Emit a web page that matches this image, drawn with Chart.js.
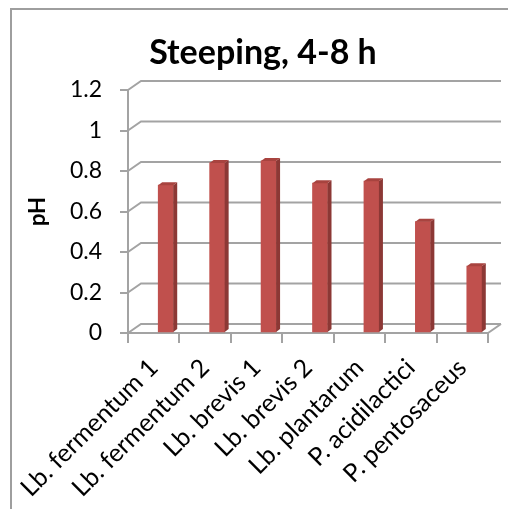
<!DOCTYPE html>
<html>
<head>
<meta charset="utf-8">
<script src="https://cdn.jsdelivr.net/npm/chart.js@4.4.0/dist/chart.umd.min.js"></script>
<style>
  html, body { margin: 0; padding: 0; background: #fff; overflow: hidden; }
  canvas { display: block; background: #fff; }
</style>
</head>
<body>
<canvas id="chart" width="508" height="509"></canvas>
<script>
// Strains and measured pH drop during steeping
const categories = ['Lb. fermentum 1', 'Lb. fermentum 2', 'Lb. brevis 1', 'Lb. brevis 2',
                    'Lb. plantarum', 'P. acidilactici', 'P. pentosaceus'];
const phValues = [0.73, 0.84, 0.85, 0.74, 0.75, 0.55, 0.33];
const yTicks = [0, 0.2, 0.4, 0.6, 0.8, 1, 1.2];

const GRID = '#a3a3a3';
const FONT = 'Lato';

// pseudo-3D geometry: back wall offset, column shift and column depth
const WALL_DX = 13, WALL_DY = -9;
const BAR_SHIFT = 12;
const BAR_DX = 4, BAR_DY = -3;

const depthPlugin = {
  id: 'depth3d',
  beforeDraw(chart) {
    const ctx = chart.ctx;
    ctx.save();
    ctx.strokeStyle = '#9e9e9e';
    ctx.lineWidth = 2;
    ctx.strokeRect(11, 9, 620, 620);
    ctx.restore();
  },
  beforeDatasetsDraw(chart) {
    const { ctx, chartArea: a, scales: { y } } = chart;
    ctx.save();
    ctx.strokeStyle = GRID;
    ctx.lineWidth = 2;
    y.ticks.forEach(t => {
      const py = y.getPixelForValue(t.value);
      ctx.beginPath();
      ctx.moveTo(a.left, py);
      ctx.lineTo(a.left + WALL_DX, py + WALL_DY);
      ctx.lineTo(a.right + WALL_DX, py + WALL_DY);
      ctx.stroke();
    });
    const p0 = y.getPixelForValue(0);
    ctx.beginPath();
    ctx.moveTo(a.right, p0);
    ctx.lineTo(a.right + WALL_DX, p0 + WALL_DY);
    ctx.stroke();
    ctx.restore();
    // columns sit slightly inside the floor
    ctx.save();
    ctx.translate(BAR_SHIFT, 0);
  },
  afterDatasetsDraw(chart) {
    const ctx = chart.ctx;
    chart.getDatasetMeta(0).data.forEach(bar => {
      const { x, y, base, width } = bar.getProps(['x', 'y', 'base', 'width'], true);
      const l = x - width / 2, r = x + width / 2;
      // side face
      ctx.fillStyle = '#8c3835';
      ctx.beginPath();
      ctx.moveTo(r, y);
      ctx.lineTo(r + BAR_DX, y + BAR_DY);
      ctx.lineTo(r + BAR_DX, base + BAR_DY);
      ctx.lineTo(r, base);
      ctx.closePath();
      ctx.fill();
      // top face
      ctx.fillStyle = '#a8433f';
      ctx.beginPath();
      ctx.moveTo(l, y);
      ctx.lineTo(l + BAR_DX, y + BAR_DY);
      ctx.lineTo(r + BAR_DX, y + BAR_DY);
      ctx.lineTo(r, y);
      ctx.closePath();
      ctx.fill();
    });
    ctx.restore();
  }
};

new Chart(document.getElementById('chart'), {
  type: 'bar',
  data: {
    labels: categories,
    datasets: [{
      data: phValues,
      backgroundColor: '#c0504d',
      borderWidth: 0,
      barThickness: 15,
      clip: false
    }]
  },
  plugins: [depthPlugin],
  options: {
    responsive: false,
    animation: false,
    devicePixelRatio: 1,
    layout: { padding: { left: 38, right: 20, top: 0, bottom: 0 } },
    plugins: {
      legend: { display: false },
      tooltip: { enabled: false },
      title: {
        display: true,
        text: 'Steeping, 4-8 h',
        color: '#000',
        font: { family: FONT, size: 34, weight: 'bold' },
        padding: { top: 33, bottom: 16.2 }
      }
    },
    scales: {
      x: {
        ticks: {
          color: '#000',
          font: { family: FONT, size: 25 },
          minRotation: 45, maxRotation: 45,
          autoSkip: false,
          padding: 10
        },
        grid: { offset: true, drawOnChartArea: false, drawTicks: true, tickLength: 10, color: GRID, lineWidth: 2 },
        border: { display: true, color: GRID, width: 2 },
        afterFit: s => { s.height = 176; }
      },
      y: {
        min: 0,
        max: 1.2,
        afterBuildTicks: s => { s.ticks = yTicks.map(v => ({ value: v })); },
        ticks: {
          color: '#000',
          font: { family: FONT, size: 23 },
          padding: 18,
          callback: v => String(v)
        },
        grid: { drawOnChartArea: false, drawTicks: true, tickLength: 8, color: GRID, lineWidth: 2 },
        border: { display: true, color: GRID, width: 2 },
        title: {
          display: true,
          text: 'pH',
          color: '#000',
          font: { family: FONT, size: 22, weight: 'bold' },
          padding: { top: -13, bottom: 0 }
        },
        afterFit: s => { s.width = 90; }
      }
    }
  }
});
</script>
</body>
</html>
